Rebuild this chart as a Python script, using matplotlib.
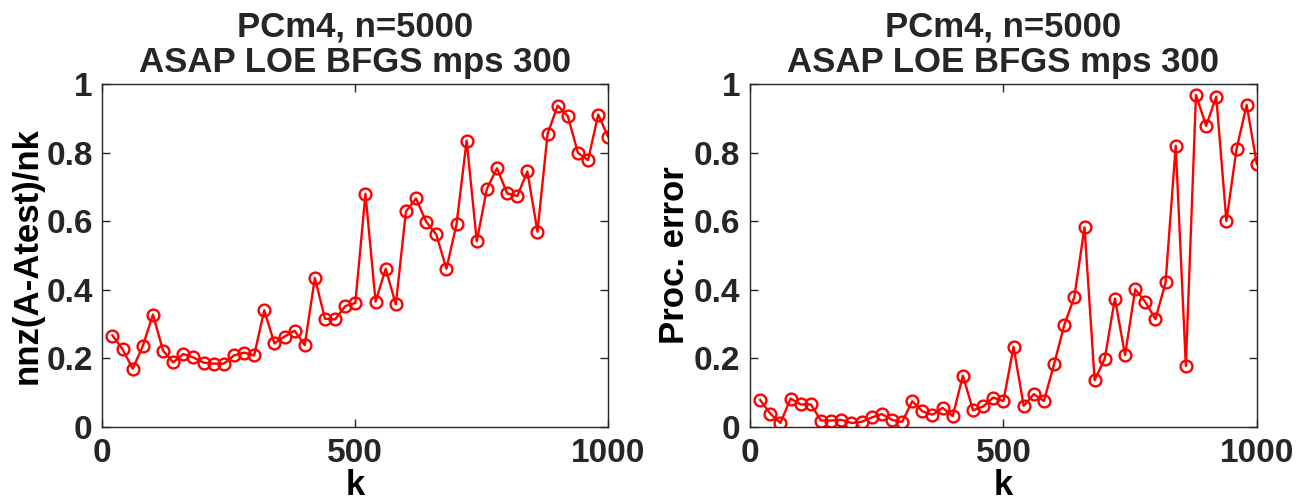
import matplotlib
matplotlib.use('Agg')
import matplotlib.pyplot as plt

k = list(range(20, 1001, 20))

nnz_ratio = [0.266, 0.226, 0.169, 0.236, 0.327, 0.222, 0.188, 0.212, 0.202, 0.187,
             0.184, 0.184, 0.208, 0.216, 0.208, 0.340, 0.243, 0.263, 0.280, 0.238,
             0.434, 0.315, 0.313, 0.352, 0.361, 0.680, 0.365, 0.461, 0.357, 0.628,
             0.666, 0.598, 0.561, 0.461, 0.591, 0.835, 0.541, 0.694, 0.754, 0.681,
             0.673, 0.745, 0.569, 0.855, 0.937, 0.906, 0.799, 0.778, 0.911, 0.845]

proc_error = [0.078, 0.038, 0.011, 0.082, 0.065, 0.065, 0.018, 0.018, 0.020, 0.011,
              0.014, 0.027, 0.037, 0.020, 0.014, 0.074, 0.045, 0.035, 0.055, 0.031,
              0.149, 0.048, 0.059, 0.085, 0.075, 0.233, 0.061, 0.095, 0.075, 0.183,
              0.296, 0.379, 0.582, 0.136, 0.199, 0.374, 0.209, 0.401, 0.364, 0.314,
              0.421, 0.820, 0.177, 0.968, 0.878, 0.963, 0.600, 0.810, 0.939, 0.767]

title = 'PCm4, n=5000\nASAP LOE BFGS mps 300'

plt.rcParams['font.family'] = ['Liberation Sans', 'DejaVu Sans']
plt.rcParams['font.weight'] = 'bold'
plt.rcParams['text.color'] = '#262626'

fig = plt.figure(figsize=(13.04, 5.01), dpi=100)
ax1 = fig.add_axes([0.0785, 0.1483, 0.388, 0.684])
ax2 = fig.add_axes([0.5752, 0.1483, 0.3886, 0.684])

for ax, y, ylabel in [(ax1, nnz_ratio, 'nnz(A-Atest)/nk'), (ax2, proc_error, 'Proc. error')]:
    ax.plot(k, y, '-o', color='red', linewidth=1.7, markersize=8.5,
            markerfacecolor='none', markeredgewidth=1.7)
    ax.set_xlim(0, 1000)
    ax.set_ylim(0, 1)
    ax.set_xticks([0, 500, 1000])
    ax.set_yticks([0, 0.2, 0.4, 0.6, 0.8, 1])
    ax.set_yticklabels(['0', '0.2', '0.4', '0.6', '0.8', '1'])
    ax.tick_params(direction='in', top=True, right=True, labelsize=24,
                   length=6, width=1, color='#262626', labelcolor='#262626')
    ax.tick_params(axis='y', pad=7)
    ax.tick_params(axis='x', pad=8)
    for s in ax.spines.values():
        s.set_color('#262626')
        s.set_linewidth(1)
    ax.set_xlabel('k', fontsize=25, fontweight='bold', labelpad=0)
    ax.set_ylabel(ylabel, fontsize=25, fontweight='bold', labelpad=2)
    ax.set_title(title, fontsize=25, fontweight='bold', linespacing=1.08, pad=9)

fig.savefig('out.png', dpi=100)
